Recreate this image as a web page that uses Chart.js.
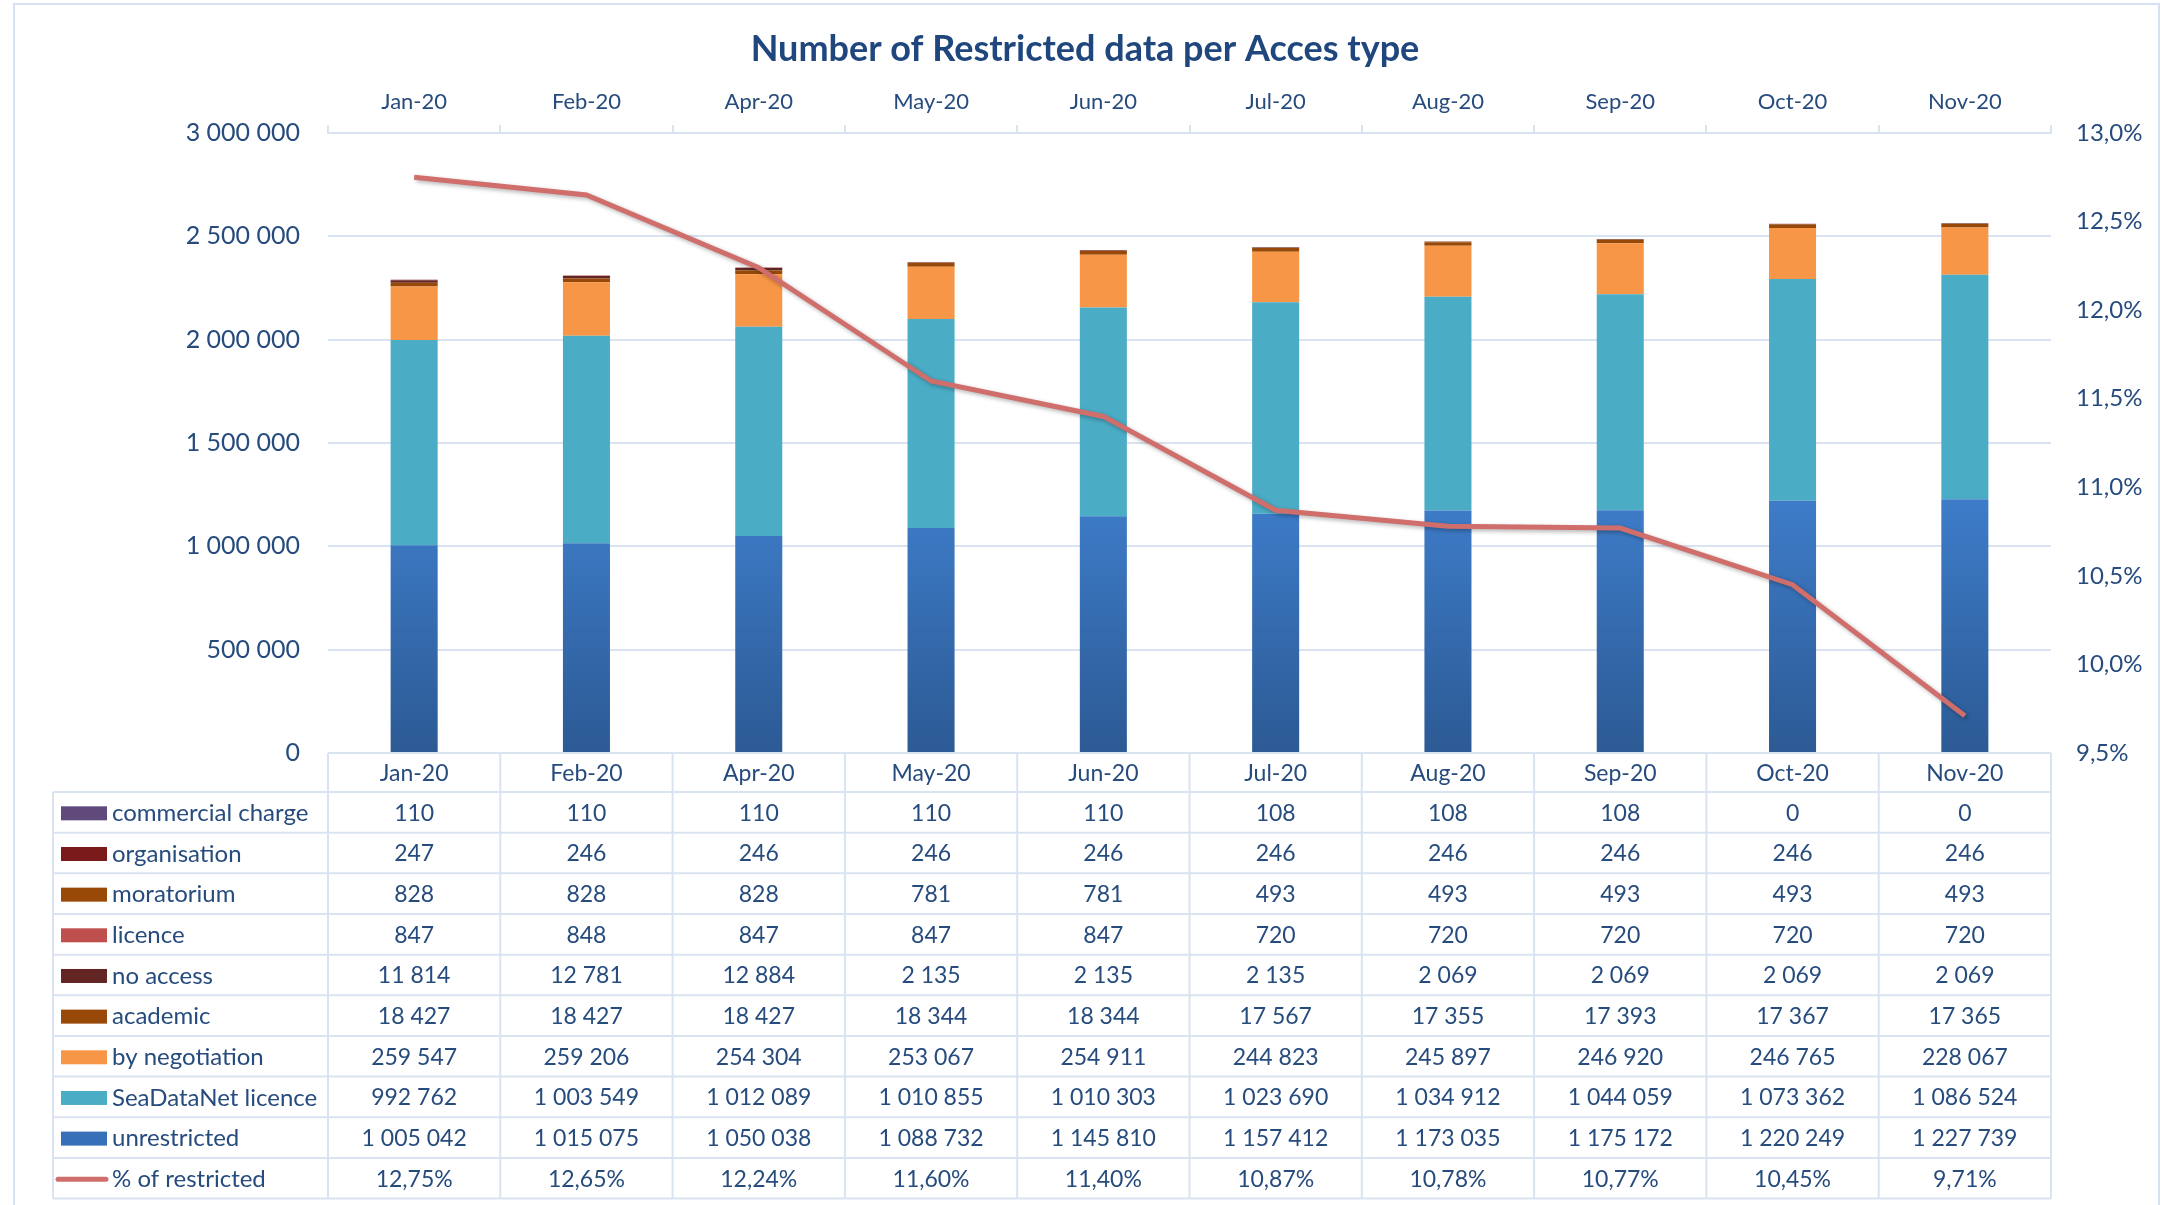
<!DOCTYPE html>
<html>
<head>
<meta charset="utf-8">
<script src="https://cdn.jsdelivr.net/npm/chart.js@4.4.0/dist/chart.umd.min.js"></script>
<style>
    html, body { margin: 0; padding: 0; background: #fff; }
    #wrap { width: 2170px; height: 1205px; position: relative; }
</style>
</head>
<body>
<div id="wrap"><canvas id="accessChart" width="2170" height="1205"></canvas></div>
<script>
"use strict";

// data
const months = ['Jan-20', 'Feb-20', 'Apr-20', 'May-20', 'Jun-20', 'Jul-20', 'Aug-20', 'Sep-20', 'Oct-20', 'Nov-20'];
const unrestricted = [1005042, 1015075, 1050038, 1088732, 1145810, 1157412, 1173035, 1175172, 1220249, 1227739];
const seaDataNetLicence = [992762, 1003549, 1012089, 1010855, 1010303, 1023690, 1034912, 1044059, 1073362, 1086524];
const byNegotiation = [259547, 259206, 254304, 253067, 254911, 244823, 245897, 246920, 246765, 228067];
const academic = [18427, 18427, 18427, 18344, 18344, 17567, 17355, 17393, 17367, 17365];
const noAccess = [11814, 12781, 12884, 2135, 2135, 2135, 2069, 2069, 2069, 2069];
const licence = [847, 848, 847, 847, 847, 720, 720, 720, 720, 720];
const moratorium = [828, 828, 828, 781, 781, 493, 493, 493, 493, 493];
const organisation = [247, 246, 246, 246, 246, 246, 246, 246, 246, 246];
const commercialCharge = [110, 110, 110, 110, 110, 108, 108, 108, 0, 0];
const pctRestricted = [12.75, 12.65, 12.24, 11.60, 11.40, 10.87, 10.78, 10.77, 10.45, 9.71];

const TEXT = '#264B7D';
const TITLE = '#1F477D';
const GRID = '#D9E3F2';
const FONT = 'Lato, "Open Sans", sans-serif';
const LINE_COLOR = '#CF6E6B';

function fmtNum(n) {
    return String(n).replace(/\B(?=(\d{3})+(?!\d))/g, ' ');
}
function fmtPct(v, d) {
    return v.toFixed(d).replace('.', ',') + '%';
}

// gradient for the unrestricted bars
function unrestrictedFill(c) {
    const chart = c.chart;
    if (!chart.chartArea) return '#3A74BC';
    const top = chart.scales.y.getPixelForValue(1250000);
    const g = chart.ctx.createLinearGradient(0, top, 0, chart.chartArea.bottom);
    g.addColorStop(0, '#3E7DCA');
    g.addColorStop(1, '#2C5A94');
    return g;
}

const barSets = [
    { label: 'unrestricted', data: unrestricted, color: '#3570B8', fill: unrestrictedFill },
    { label: 'SeaDataNet licence', data: seaDataNetLicence, color: '#4BACC6' },
    { label: 'by negotiation', data: byNegotiation, color: '#F79646' },
    { label: 'academic', data: academic, color: '#984807' },
    { label: 'no access', data: noAccess, color: '#632523' },
    { label: 'licence', data: licence, color: '#C0504D' },
    { label: 'moratorium', data: moratorium, color: '#984807' },
    { label: 'organisation', data: organisation, color: '#7A1A1A' },
    { label: 'commercial charge', data: commercialCharge, color: '#604A7B' }
];

const datasets = barSets.map(s => ({
    type: 'bar',
    label: s.label,
    data: s.data,
    backgroundColor: s.fill || s.color,
    borderWidth: 0,
    stack: 'access',
    yAxisID: 'y',
    order: 1,
    barPercentage: 0.273,
    categoryPercentage: 1
}));
datasets.push({
    type: 'line',
    label: '% of restricted',
    data: pctRestricted,
    borderColor: LINE_COLOR,
    borderWidth: 5,
    pointRadius: 0,
    tension: 0,
    yAxisID: 'y1',
    order: 0
});

// shadow under the line like the Excel original
const lineShadow = {
    id: 'lineShadow',
    beforeDatasetDraw(chart, args) {
        if (chart.data.datasets[args.index].type !== 'line') return;
        const ctx = chart.ctx;
        ctx.save();
        ctx.shadowColor = 'rgba(0,0,0,0.3)';
        ctx.shadowBlur = 4;
        ctx.shadowOffsetX = 2;
        ctx.shadowOffsetY = 2;
    },
    afterDatasetDraw(chart, args) {
        if (chart.data.datasets[args.index].type !== 'line') return;
        chart.ctx.restore();
    }
};

// data table under the plot, columns follow the x scale
const dataTable = {
    id: 'dataTable',
    afterDraw(chart) {
        const ctx = chart.ctx;
        const area = chart.chartArea;
        const xs = chart.scales.x;
        const colW = (area.right - area.left) / months.length;
        const headTop = area.bottom;
        const headBottom = headTop + 39;
        const rowH = 40.66;
        const tableLeft = 53;

        const rows = barSets.slice().reverse().map(s => ({
            label: s.label, color: s.color, cells: s.data.map(fmtNum), line: false
        }));
        rows.push({ label: '% of restricted', color: LINE_COLOR, cells: pctRestricted.map(v => fmtPct(v, 2)), line: true });
        const tableBottom = headBottom + rowH * rows.length;

        ctx.save();
        // outer chart frame
        ctx.strokeStyle = '#D6E2F3';
        ctx.lineWidth = 2;
        ctx.strokeRect(14, 4, 2145, 1230);

        ctx.strokeStyle = GRID;
        ctx.lineWidth = 2;
        ctx.beginPath();
        ctx.moveTo(area.left, headTop);
        ctx.lineTo(area.right, headTop);
        for (let r = 0; r <= rows.length; r++) {
            const y = headBottom + rowH * r;
            ctx.moveTo(tableLeft, y);
            ctx.lineTo(area.right, y);
        }
        for (let c = 0; c <= months.length; c++) {
            const x = area.left + colW * c;
            ctx.moveTo(x, headTop);
            ctx.lineTo(x, tableBottom);
        }
        ctx.moveTo(tableLeft, headBottom);
        ctx.lineTo(tableLeft, tableBottom);
        ctx.stroke();

        ctx.fillStyle = TEXT;
        ctx.textBaseline = 'middle';
        ctx.textAlign = 'center';
        ctx.font = '23px ' + FONT;
        months.forEach((m, i) => {
            ctx.fillText(m, xs.getPixelForValue(i), (headTop + headBottom) / 2 + 1);
        });

        rows.forEach((row, r) => {
            const cy = headBottom + rowH * r + rowH / 2 + 1;
            if (row.line) {
                ctx.strokeStyle = row.color;
                ctx.lineWidth = 5;
                ctx.lineCap = 'round';
                ctx.beginPath();
                ctx.moveTo(58, cy);
                ctx.lineTo(106, cy);
                ctx.stroke();
            } else {
                ctx.fillStyle = row.color;
                ctx.fillRect(61, cy - 7, 46, 14);
            }
            ctx.fillStyle = TEXT;
            ctx.textAlign = 'left';
            ctx.font = '24px ' + FONT;
            ctx.fillText(row.label, 112, cy);
            ctx.textAlign = 'center';
            ctx.font = '23px ' + FONT;
            row.cells.forEach((txt, i) => {
                ctx.fillText(txt, xs.getPixelForValue(i), cy);
            });
        });
        ctx.restore();
    }
};

const ctx = document.getElementById('accessChart').getContext('2d');
new Chart(ctx, {
    data: {
        labels: months,
        datasets: datasets
    },
    options: {
        responsive: false,
        animation: false,
        layout: { padding: { top: 22, left: 0, right: 0, bottom: 452 } },
        plugins: {
            legend: { display: false },
            tooltip: { enabled: false },
            title: {
                display: true,
                text: 'Number of Restricted data per Acces type',
                color: TITLE,
                font: { family: FONT, size: 36, weight: 'bold' },
                padding: { top: 6, bottom: 8 }
            }
        },
        scales: {
            x: {
                position: 'top',
                stacked: true,
                offset: true,
                afterFit: s => { s.height = 53.8; },
                grid: { offset: true, drawOnChartArea: false, tickLength: 8, color: GRID, lineWidth: 2 },
                border: { color: GRID, width: 2 },
                ticks: { color: TEXT, font: { family: FONT, size: 22 }, padding: 10, maxRotation: 0 }
            },
            y: {
                position: 'left',
                stacked: true,
                min: 0,
                max: 3000000,
                afterFit: s => { s.width = 328; },
                grid: { color: GRID, lineWidth: 2, drawTicks: false },
                border: { display: false },
                ticks: {
                    stepSize: 500000,
                    padding: 28,
                    color: TEXT,
                    font: { family: FONT, size: 25 },
                    callback: v => fmtNum(v)
                }
            },
            y1: {
                position: 'right',
                min: 9.5,
                max: 13,
                afterFit: s => { s.width = 119; },
                grid: { display: false, drawTicks: false },
                border: { display: false },
                ticks: {
                    stepSize: 0.5,
                    padding: 25,
                    color: TEXT,
                    font: { family: FONT, size: 24 },
                    callback: v => fmtPct(v, 1)
                }
            }
        }
    },
    plugins: [lineShadow, dataTable]
});
</script>
</body>
</html>
